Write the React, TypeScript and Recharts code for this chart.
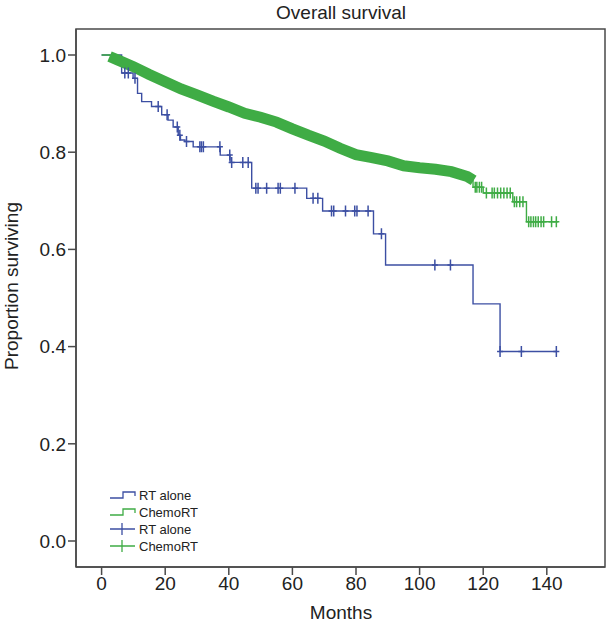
import { ComposedChart, Line, Scatter, XAxis, YAxis, Legend, Label, ReferenceArea } from "recharts"

const TITLE = "Overall survival"
const X_TICKS = [0, 20, 40, 60, 80, 100, 120, 140]
const Y_TICKS = [0, 0.2, 0.4, 0.6, 0.8, 1.0]

// RT alone - Kaplan-Meier steps
const rtMonths = [0, 6.3, 9.9, 11.3, 12.6, 15.7, 18.9, 20.9, 22.5, 24.1, 24.8, 26.2, 28.8, 37.3, 40.4, 47.2, 64.5, 69.5, 85.5, 89.3, 116.8, 125.3, 143]
const rtSurv = [1.0, 0.963, 0.952, 0.921, 0.904, 0.894, 0.877, 0.866, 0.852, 0.835, 0.825, 0.822, 0.811, 0.794, 0.779, 0.726, 0.705, 0.679, 0.632, 0.568, 0.488, 0.39, 0.39]

// RT alone - censored
const rtCensMonths = [7.3, 8.4, 10.5, 17.8, 20.6, 23.8, 24.6, 26.7, 30.9, 31.4, 32.0, 37.2, 40.3, 40.9, 44.4, 46.1, 48.5, 49.2, 51.9, 55.5, 56.2, 60.8, 66.5, 68.0, 72.3, 73.0, 76.7, 79.6, 80.3, 83.8, 88.0, 104.8, 109.7, 125.3, 132, 143]
const rtCensSurv = [0.963, 0.963, 0.952, 0.894, 0.877, 0.852, 0.835, 0.822, 0.811, 0.811, 0.811, 0.811, 0.794, 0.779, 0.779, 0.779, 0.726, 0.726, 0.726, 0.726, 0.726, 0.726, 0.705, 0.705, 0.679, 0.679, 0.679, 0.679, 0.679, 0.679, 0.632, 0.568, 0.568, 0.39, 0.39, 0.39]

// ChemoRT - dense part (heavily censored band)
const chemoBandMonths = [2.5, 5, 10, 15, 20, 25, 30, 35, 40, 45, 50, 55, 60, 65, 70, 75, 80, 85, 90, 95, 100, 105, 110, 115, 117]
const chemoBandSurv = [0.997, 0.99, 0.976, 0.96, 0.945, 0.93, 0.918, 0.905, 0.893, 0.88, 0.872, 0.862, 0.848, 0.835, 0.823, 0.808, 0.795, 0.789, 0.782, 0.772, 0.768, 0.765, 0.76, 0.75, 0.742]

// ChemoRT - thin steps at start and tail
const chemoHeadMonths = [0, 2.5]
const chemoHeadSurv = [1.0, 0.998]
const chemoTailMonths = [115, 116.8, 120, 129.3, 133.6, 143.5]
const chemoTailSurv = [0.75, 0.728, 0.716, 0.698, 0.657, 0.657]

// ChemoRT - censored in tail
const chemoCensMonths = [117.5, 118, 118.8, 119.5, 121, 122.8, 123.5, 124.5, 125.5, 126.5, 127.5, 128.5, 129.8, 130.5, 131.5, 132.5, 134.3, 135, 135.8, 136.5, 137.3, 138.2, 139, 141.5, 143]
const chemoCensSurv = [0.728, 0.728, 0.728, 0.728, 0.716, 0.716, 0.716, 0.716, 0.716, 0.716, 0.716, 0.716, 0.698, 0.698, 0.698, 0.698, 0.657, 0.657, 0.657, 0.657, 0.657, 0.657, 0.657, 0.657, 0.657]

const BLUE = "#3c4fa3"
const GREEN = "#3fac45"
const AXIS = "#4a4a4a"
const FONT = "'Liberation Sans', Arial, sans-serif"

const zip = (xs: number[], ys: number[]) => xs.map((m, i) => ({ month: m, surv: ys[i] }))

const rtData = zip(rtMonths, rtSurv)
const rtCens = zip(rtCensMonths, rtCensSurv)
const chemoBand = zip(chemoBandMonths, chemoBandSurv)
const chemoHead = zip(chemoHeadMonths, chemoHeadSurv)
const chemoTail = zip(chemoTailMonths, chemoTailSurv)
const chemoCens = zip(chemoCensMonths, chemoCensSurv)

const X_DOMAIN = [-8.05, 158.3]
const Y_DOMAIN = [-0.0535, 1.0535]

function censorShape(color: string) {
  return (props: any) => {
    const { cx, cy } = props
    if (cx == null || cy == null) return <g />
    return (
      <path
        d={`M${cx},${cy - 5.5}V${cy + 5.5}M${cx - 3},${cy}H${cx + 3}`}
        stroke={color}
        strokeWidth={1.5}
        fill="none"
      />
    )
  }
}

const legendRows = [
  { label: "RT alone", color: BLUE, kind: "step" },
  { label: "ChemoRT", color: GREEN, kind: "step" },
  { label: "RT alone", color: BLUE, kind: "cross" },
  { label: "ChemoRT", color: GREEN, kind: "cross" },
]

function renderLegend() {
  return (
    <svg width={130} height={72} style={{ overflow: "visible" }}>
      {legendRows.map((r, i) => {
        const y = 9 + i * 17
        return (
          <g key={i}>
            {r.kind === "step" ? (
              <path d={`M2,${y + 3}H15V${y - 3}H27V${y + 1}`} stroke={r.color} strokeWidth={1.3} fill="none" />
            ) : (
              <path d={`M2,${y}H27M14,${y - 6}V${y + 6}`} stroke={r.color} strokeWidth={1.3} fill="none" />
            )}
            <text x={31} y={y + 4.5} fontSize={13} fontFamily={FONT} fill="#222">
              {r.label}
            </text>
          </g>
        )
      })}
    </svg>
  )
}

export default function App() {
  return (
    <div style={{ position: "absolute", left: 0, top: 0, background: "#fff" }}>
      <ComposedChart width={608} height={624} margin={{ top: 29, right: 3, left: 0, bottom: 0 }}>
        <XAxis
          dataKey="month"
          type="number"
          domain={X_DOMAIN}
          ticks={X_TICKS}
          allowDataOverflow
          height={57}
          tickSize={8}
          stroke={AXIS}
          strokeWidth={1.5}
          tick={{ fontSize: 19, fill: "#222", fontFamily: FONT }}
          tickLine={{ stroke: AXIS, strokeWidth: 1.5 }}
        >
          <Label
            content={() => (
              <text x={341} y={619} textAnchor="middle" fontSize={19} fontFamily={FONT} fill="#222">
                Months
              </text>
            )}
          />
        </XAxis>
        <YAxis
          type="number"
          domain={Y_DOMAIN}
          ticks={Y_TICKS}
          allowDataOverflow
          width={76}
          tickSize={8}
          stroke={AXIS}
          strokeWidth={1.5}
          tickFormatter={(v: number) => v.toFixed(1)}
          tick={{ fontSize: 19, fill: "#222", fontFamily: FONT }}
          tickLine={{ stroke: AXIS, strokeWidth: 1.5 }}
        >
          <Label
            content={() => (
              <text
                x={18}
                y={286}
                textAnchor="middle"
                fontSize={19}
                fontFamily={FONT}
                fill="#222"
                transform="rotate(-90, 18, 286)"
              >
                Proportion surviving
              </text>
            )}
          />
        </YAxis>

        <ReferenceArea
          x1={X_DOMAIN[0]}
          x2={X_DOMAIN[1]}
          y1={Y_DOMAIN[0]}
          y2={Y_DOMAIN[1]}
          fill="none"
          fillOpacity={0}
          stroke={AXIS}
          strokeWidth={1.5}
          ifOverflow="visible"
        >
          <Label
            content={() => (
              <text x={341} y={19} textAnchor="middle" fontSize={19} fontFamily={FONT} fill="#222">
                {TITLE}
              </text>
            )}
          />
        </ReferenceArea>

        <Line data={rtData} dataKey="surv" type="stepAfter" stroke={BLUE} strokeWidth={1.4} dot={false} isAnimationActive={false} legendType="none" />
        <Scatter data={rtCens} dataKey="surv" shape={censorShape(BLUE)} isAnimationActive={false} legendType="none" />

        <Line data={chemoHead} dataKey="surv" type="stepAfter" stroke={GREEN} strokeWidth={1.4} dot={false} isAnimationActive={false} legendType="none" />
        <Line data={chemoBand} dataKey="surv" type="linear" stroke={GREEN} strokeWidth={11} strokeLinecap="butt" dot={false} isAnimationActive={false} legendType="none" />
        <Line data={chemoTail} dataKey="surv" type="stepAfter" stroke={GREEN} strokeWidth={1.4} dot={false} isAnimationActive={false} legendType="none" />
        <Scatter data={chemoCens} dataKey="surv" shape={censorShape(GREEN)} isAnimationActive={false} legendType="none" />

        <Legend
          layout="vertical"
          align="center"
          verticalAlign="middle"
          content={renderLegend}
          wrapperStyle={{ position: "absolute", left: 108, top: 486, width: 130, height: 72 }}
        />
      </ComposedChart>
    </div>
  )
}
